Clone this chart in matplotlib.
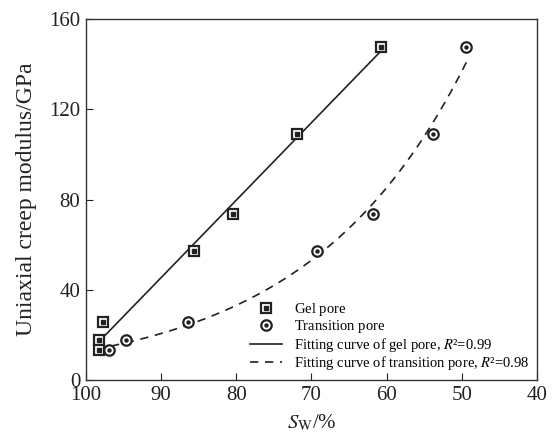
import matplotlib
matplotlib.use('Agg')
import matplotlib.pyplot as plt
import numpy as np
from matplotlib.legend_handler import HandlerTuple

plt.rcParams['font.family'] = 'Liberation Serif'
plt.rcParams['mathtext.fontset'] = 'stix'

# Sw, %  и модуль ползучести, ГПа
gel_sw = [60.8, 71.9, 80.5, 85.6, 97.7, 98.3, 98.3]
gel_mod = [147.5, 109.2, 73.8, 57.2, 25.8, 17.6, 13.4]
trans_sw = [49.4, 53.8, 61.8, 69.3, 86.4, 94.7, 97.0]
trans_mod = [147.5, 109.2, 73.8, 57.2, 25.8, 17.6, 13.4]

x_ticks = [100, 90, 80, 70, 60, 50, 40]
y_ticks = [0, 40, 80, 120, 160]

# аппроксимация: линейная для гелевых пор, экспоненциальная для переходных
k_gel = np.polyfit(gel_sw, gel_mod, 1)
k_tr = np.polyfit(trans_sw, np.log(trans_mod), 1)
xg = np.linspace(min(gel_sw), max(gel_sw), 100)
xt = np.linspace(min(trans_sw), max(trans_sw), 100)

fig = plt.figure(figsize=(5.53, 4.37), dpi=100)
ax = fig.add_axes([0.1555, 0.1304, 0.8155, 0.8261])

c = '#222222'
line_gel, = ax.plot(xg, np.polyval(k_gel, xg), color=c, lw=1.2)
line_tr, = ax.plot(xt, np.exp(np.polyval(k_tr, xt)), color=c, lw=1.2, dashes=(5, 4))

sq = ax.plot(gel_sw, gel_mod, ls='none', marker='s', ms=7, mfc='white',
             mec=c, mew=1.6)[0]
sq_c = ax.plot(gel_sw, gel_mod, ls='none', marker='s', ms=2.2, color=c)[0]
ci = ax.plot(trans_sw, trans_mod, ls='none', marker='o', ms=7.5, mfc='white',
             mec=c, mew=1.6)[0]
ci_c = ax.plot(trans_sw, trans_mod, ls='none', marker='o', ms=2.2, color=c)[0]

ax.set_xlim(100, 40)
ax.set_ylim(0, 160)
ax.set_xticks(x_ticks)
ax.set_yticks(y_ticks)
ax.tick_params(direction='in', length=5, width=0.8, labelsize=15, colors=c, pad=4)
for s in ax.spines.values():
    s.set_color('#333333')
    s.set_linewidth(1.0)

ax.set_xlabel(r'$S_\mathrm{W}$/%', fontsize=15, color=c, labelpad=6)
ax.set_ylabel('Uniaxial creep modulus/GPa', fontsize=17, color=c, labelpad=9)

# все подписи через mathtext, чтобы строки легенды были одной высоты
ax.legend([(sq, sq_c), (ci, ci_c), line_gel, line_tr],
          [r'Gel pore$\,$', r'Transition pore$\,$',
           r'Fitting curve of gel pore, $R$²=0.99',
           r'Fitting curve of transition pore, $R$²=0.98'],
          handler_map={tuple: HandlerTuple(ndivide=1, pad=0)},
          loc='lower right', frameon=False, fontsize=10.5, handlelength=2.2,
          handletextpad=0.8, labelspacing=0.02, borderaxespad=0.15,
          bbox_to_anchor=(1.0, 0.0))

fig.savefig('out.png', dpi=100)
